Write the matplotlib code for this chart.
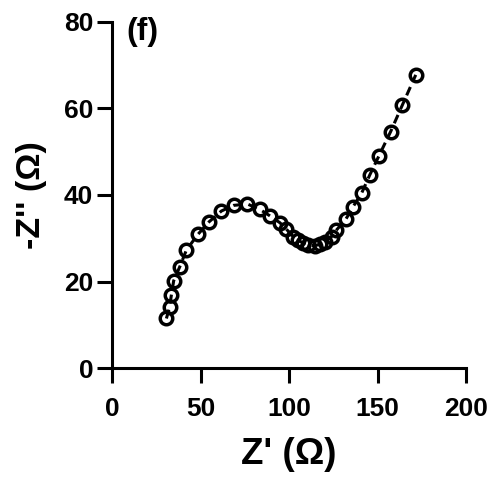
import matplotlib
matplotlib.use("Agg")
import matplotlib.pyplot as plt

z_real = [30.7, 32.5, 33.5, 34.8, 38.2, 42.0, 48.5, 54.8, 61.8, 68.7, 76.5, 83.4,
          89.1, 94.8, 98.5, 102.3, 105.1, 107.9, 110.7, 114.5, 117.4, 120.2, 124.0,
          126.8, 132.1, 136.2, 141.0, 145.6, 150.9, 157.4, 164.1, 171.6]
z_imag = [11.5, 14.2, 16.9, 20.2, 23.4, 27.3, 30.9, 33.8, 36.3, 37.6, 37.9, 36.7,
          35.2, 33.6, 32.1, 30.4, 29.6, 28.9, 28.4, 28.3, 28.6, 29.2, 30.4,
          31.9, 34.4, 37.3, 40.4, 44.6, 49.1, 54.6, 60.8, 67.7]
x_ticks = [0, 50, 100, 150, 200]
y_ticks = [0, 20, 40, 60, 80]

plt.rcParams['font.family'] = ['Liberation Sans', 'DejaVu Sans']
plt.rcParams['font.weight'] = 'bold'

fig = plt.figure(figsize=(4.96, 4.79), dpi=100)
ax = fig.add_axes([0.226, 0.231, 0.7135, 0.724])

ax.plot(z_real, z_imag, color='black', lw=2.2, linestyle=(0, (3, 2)),
        marker='o', markersize=9, markerfacecolor='none',
        markeredgecolor='black', markeredgewidth=2.5)

ax.set_xlim(0, 200)
ax.set_ylim(0, 80)
ax.set_xticks(x_ticks)
ax.set_yticks(y_ticks)
for s in ['top', 'right']:
    ax.spines[s].set_visible(False)
for s in ['left', 'bottom']:
    ax.spines[s].set_linewidth(2.2)
ax.tick_params(width=2.2, length=10.5, labelsize=19)
ax.tick_params(axis='x', pad=10)
ax.tick_params(axis='y', pad=3)
for lab in ax.get_xticklabels() + ax.get_yticklabels():
    lab.set_fontweight('bold')

ax.set_xlabel("Z' (Ω)", fontsize=26.5, fontweight='bold', labelpad=12)
ax.set_ylabel("-Z'' (Ω)", fontsize=24.5, fontweight='bold', labelpad=12)
ax.text(0.04, 0.971, "(f)", transform=ax.transAxes, fontsize=23,
        fontweight='bold', va='center', ha='left')

fig.savefig("out.png", dpi=100)
